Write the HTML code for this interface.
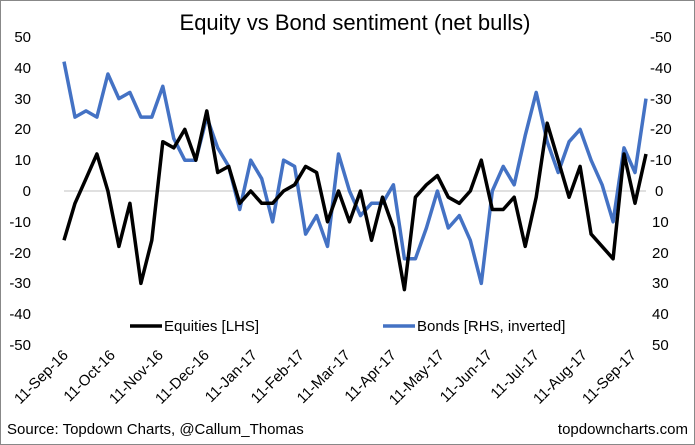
<!DOCTYPE html>
<html><head><meta charset="utf-8"><style>
html,body{margin:0;padding:0;background:#fff}
svg{display:block;font-family:"Liberation Sans",Arial,sans-serif}
</style></head><body>
<svg width="695" height="445" viewBox="0 0 695 445">
<rect x="0.5" y="0.5" width="694" height="444" fill="#fff" stroke="#888" stroke-width="1"/>
<text x="355" y="30" font-size="22" text-anchor="middle" fill="#000">Equity vs Bond sentiment (net bulls)</text>
<g font-size="15" fill="#000" text-anchor="end">
<text x="31" y="42">50</text><text x="31" y="73">40</text><text x="31" y="104">30</text><text x="31" y="134">20</text><text x="31" y="165">10</text><text x="31" y="196">0</text><text x="31" y="227">-10</text><text x="31" y="258">-20</text><text x="31" y="288">-30</text><text x="31" y="319">-40</text><text x="31" y="350">-50</text>
</g>
<g font-size="15" fill="#000" text-anchor="start">
<text x="650" y="42">-50</text><text x="650" y="73">-40</text><text x="650" y="104">-30</text><text x="650" y="134">-20</text><text x="650" y="165">-10</text><text x="655" y="196">0</text><text x="652" y="227">10</text><text x="652" y="258">20</text><text x="652" y="288">30</text><text x="652" y="319">40</text><text x="652" y="350">50</text>
</g>
<line x1="64" y1="191" x2="646" y2="191" stroke="#c0c0c0" stroke-width="1"/>
<polyline id="b" fill="none" stroke="#4472C4" stroke-width="3.5" stroke-linejoin="round" points=""/>
<polyline id="k" fill="none" stroke="#000" stroke-width="3.5" stroke-linejoin="round" points=""/>
<line x1="130" y1="326" x2="162" y2="326" stroke="#000" stroke-width="3.5"/>
<text x="164" y="331" font-size="15">Equities [LHS]</text>
<line x1="383" y1="326" x2="415" y2="326" stroke="#4472C4" stroke-width="3.5"/>
<text x="417" y="331" font-size="15">Bonds [RHS, inverted]</text>
<g font-size="15" fill="#000" text-anchor="end" id="xl"></g>
<text x="7" y="434" font-size="15">Source: Topdown Charts, @Callum_Thomas</text>
<text x="688" y="434" font-size="15" text-anchor="end">topdowncharts.com</text>
</svg>
<script>
var K=[-16,-4,4,12,0,-18,-4,-30,-16,16,14,20,10,26,6,8,-4,0,-4,-4,0,2,8,6,-10,0,-10,0,-16,-2,-12,-32,-2,2,5,-2,-4,0,10,-6,-6,-2,-18,-2,22,10,-2,8,-14,-18,-22,12,-4,12];
var B=[42,24,26,24,38,30,32,24,24,34,17,10,10,24,14,8,-6,10,4,-10,10,8,-14,-8,-18,12,0,-8,-4,-4,2,-22,-22,-12,0,-12,-8,-16,-30,0,8,2,18,32,16,6,16,20,10,2,-10,14,6,30];
function pts(a){var s=[];var st=(646-64)/(a.length-1);for(var i=0;i<a.length;i++){s.push((64+i*st).toFixed(1)+","+(191-a[i]*3.08).toFixed(1));}return s.join(" ");}
document.getElementById("k").setAttribute("points",pts(K));
document.getElementById("b").setAttribute("points",pts(B));
var L=["11-Sep-16","11-Oct-16","11-Nov-16","11-Dec-16","11-Jan-17","11-Feb-17","11-Mar-17","11-Apr-17","11-May-17","11-Jun-17","11-Jul-17","11-Aug-17","11-Sep-17"];
var X=[69,116,164,210,258,305,351,397,445,493,540,588,637];
var g=document.getElementById("xl"),h="";
for(var i=0;i<L.length;i++){h+='<text transform="translate('+X[i]+',356) rotate(-45)">'+L[i]+'</text>';}
g.innerHTML=h;
</script>
</body></html>
